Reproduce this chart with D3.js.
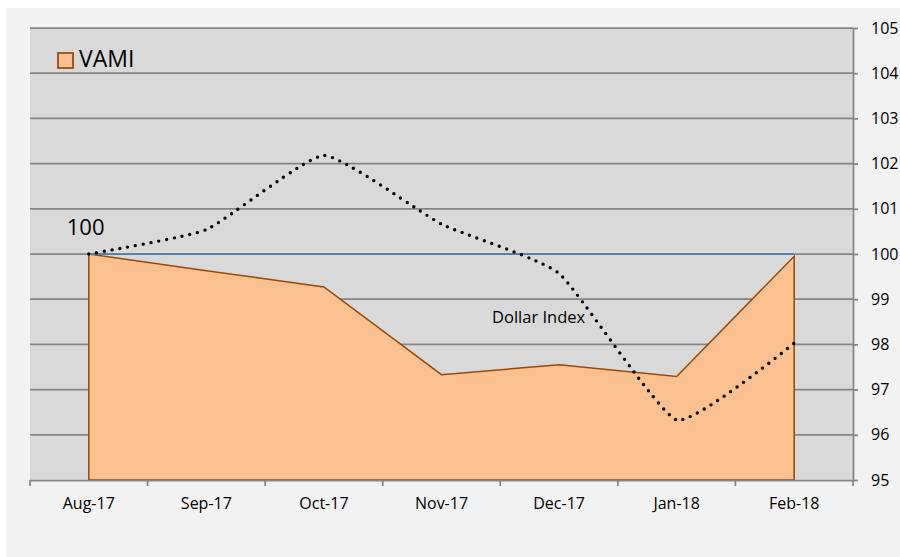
<!DOCTYPE html>
<html>
<head>
<meta charset="utf-8">
<script src="https://cdn.jsdelivr.net/npm/d3@7"></script>
<style>
  body { margin: 0; background: #ffffff; }
  text { font-family: "Open Sans", "Noto Sans", sans-serif; fill: #000; }
</style>
</head>
<body>
<div id="chart"></div>
<script>
// Data
const months = ["Aug-17", "Sep-17", "Oct-17", "Nov-17", "Dec-17", "Jan-18", "Feb-18"];
const vami = [100, 99.63, 99.27, 97.33, 97.55, 97.29, 99.95];
const dollarIndex = [100, 100.54, 102.18, 100.66, 99.57, 96.33, 98.03];
const baseline = [100, 100, 100, 100, 100, 100, 100];
const yTicks = [95, 96, 97, 98, 99, 100, 101, 102, 103, 104, 105];

// Dimensions
const W = 900, H = 557;
const plot = { left: 30, right: 853, top: 28, bottom: 480 };

const svg = d3.select("#chart")
    .append("svg")
    .attr("width", W)
    .attr("height", H);

// Chart panel background
svg.append("rect")
    .attr("x", 6).attr("y", 8)
    .attr("width", W - 6).attr("height", H - 8)
    .attr("fill", "#f2f2f2");

// Plot area
svg.append("rect")
    .attr("x", plot.left).attr("y", plot.top)
    .attr("width", plot.right - plot.left)
    .attr("height", plot.bottom - plot.top)
    .attr("fill", "#d9d9d9");

// Scales
const x = d3.scaleBand()
    .domain(months)
    .range([plot.left, plot.right])
    .padding(0);

const y = d3.scaleLinear()
    .domain([95, 105])
    .range([plot.bottom, plot.top]);

const cx = (d, i) => x(months[i]) + x.bandwidth() / 2;

// Gridlines
svg.append("g")
    .selectAll("line")
    .data(yTicks.filter(t => t > 95))
    .enter()
    .append("line")
    .attr("x1", plot.left)
    .attr("x2", plot.right)
    .attr("y1", d => y(d))
    .attr("y2", d => y(d))
    .attr("stroke", "#858585")
    .attr("stroke-width", 1.75);

// VAMI area
const area = d3.area()
    .x(cx)
    .y0(y(95))
    .y1(d => y(d));

svg.append("path")
    .datum(vami)
    .attr("d", area)
    .attr("fill", "#fac090")
    .attr("stroke", "#984807")
    .attr("stroke-width", 1.5)
    .attr("stroke-linejoin", "miter");

// Baseline at 100
svg.append("path")
    .datum(baseline)
    .attr("d", d3.line().x(cx).y(d => y(d)))
    .attr("fill", "none")
    .attr("stroke", "#4a7ebb")
    .attr("stroke-width", 1.75);

// Dollar Index (lightly smoothed, dotted)
svg.append("path")
    .datum(dollarIndex)
    .attr("d", d3.line().x(cx).y(d => y(d)).curve(d3.curveCardinal.tension(0.55)))
    .attr("fill", "none")
    .attr("stroke", "#000")
    .attr("stroke-width", 3.4)
    .attr("stroke-linecap", "round")
    .attr("stroke-dasharray", "0 7.9");

// Right y axis
const yAxis = svg.append("g")
    .attr("transform", `translate(${plot.right},0)`)
    .call(d3.axisRight(y).tickValues(yTicks).tickSize(5).tickSizeOuter(0).tickPadding(13));
yAxis.select(".domain").attr("stroke", "#858585").attr("stroke-width", 1.75);
yAxis.selectAll(".tick line").attr("stroke", "#858585").attr("stroke-width", 1.75);
yAxis.selectAll("text").style("font-size", "16px").attr("fill", "#000");

// Bottom x axis
const xAxis = svg.append("g")
    .attr("transform", `translate(0,${plot.bottom})`)
    .call(d3.axisBottom(x).tickSize(0).tickPadding(17.5));
xAxis.select(".domain").attr("stroke", "#858585").attr("stroke-width", 1.75);
xAxis.selectAll("text").style("font-size", "16px").attr("fill", "#000");

// Category boundary ticks
svg.append("g")
    .selectAll("line")
    .data(months.map(m => x(m)).concat([plot.right]))
    .enter()
    .append("line")
    .attr("x1", d => d).attr("x2", d => d)
    .attr("y1", plot.bottom).attr("y2", plot.bottom + 6)
    .attr("stroke", "#858585")
    .attr("stroke-width", 1.75);

// Legend
svg.append("rect")
    .attr("x", 58).attr("y", 53)
    .attr("width", 15).attr("height", 15)
    .attr("fill", "#fac090")
    .attr("stroke", "#984807")
    .attr("stroke-width", 1.75);
svg.append("text")
    .attr("x", 79).attr("y", 67)
    .style("font-size", "23px")
    .text("VAMI");

// Annotations
svg.append("text")
    .attr("x", cx(null, 0) - 22)
    .attr("y", y(100) - 19)
    .style("font-size", "22px")
    .text("100");

svg.append("text")
    .attr("x", 492)
    .attr("y", 323)
    .style("font-size", "16.5px")
    .text("Dollar Index");
</script>
</body>
</html>
